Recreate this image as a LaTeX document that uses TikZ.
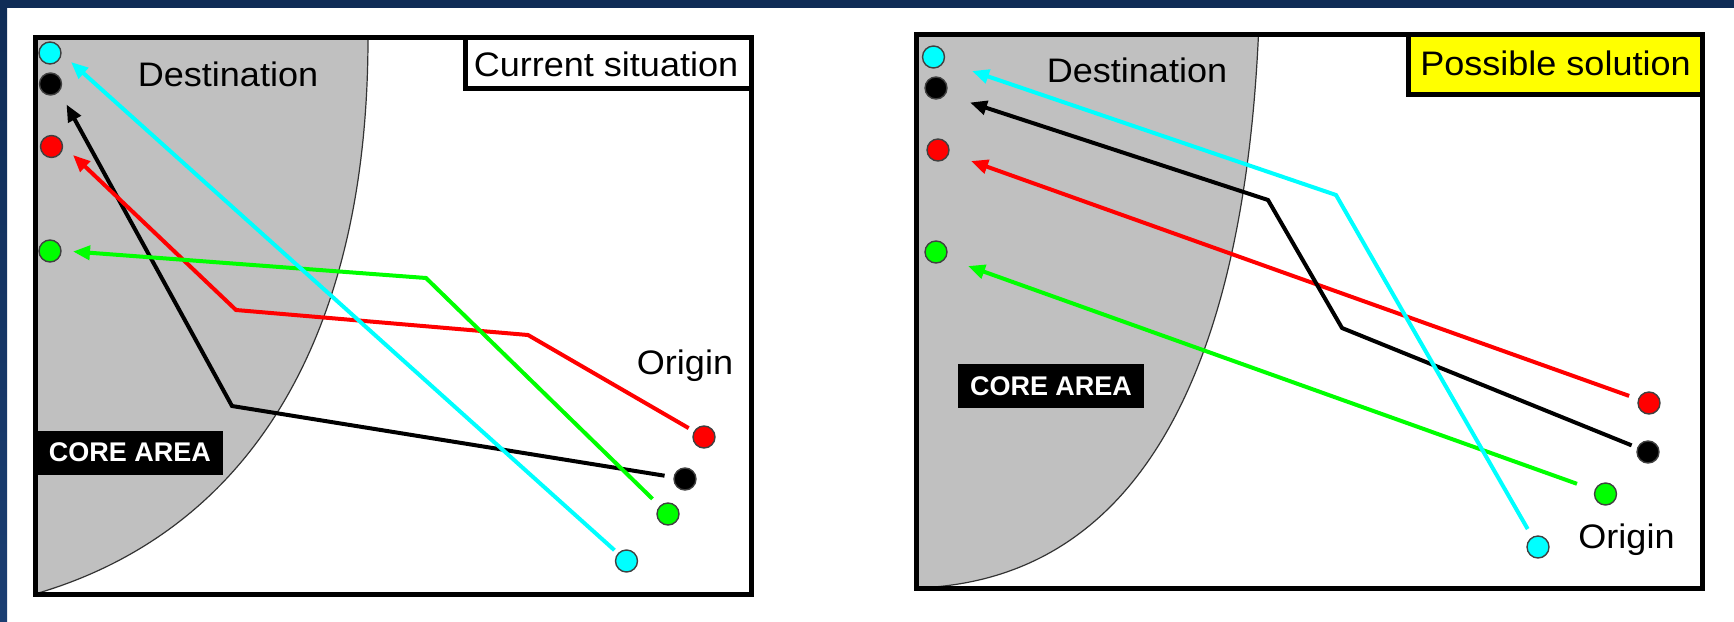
\documentclass[tikz,border=0pt]{standalone}
\usepackage{fontspec}
\setmainfont{Liberation Sans}
\usetikzlibrary{arrows.meta}

\definecolor{bandnavy}{HTML}{0F2C56}
\definecolor{stripnavy}{HTML}{1B3E72}
\definecolor{corefill}{HTML}{C0C0C0}
\definecolor{routecyan}{HTML}{00FFFF}
\definecolor{routegreen}{HTML}{00FF00}
\definecolor{routered}{HTML}{FF0000}
\definecolor{labelyellow}{HTML}{FFFF00}

% slightly widened sans text for the captions
\newcommand{\widetext}[1]{\scalebox{1.06}[1]{#1}}

\begin{document}
\begin{tikzpicture}[x=0.5pt,y=-0.5pt,
  frame/.style={draw=black,line width=2.5pt},
  coreedge/.style={draw=black!80,line width=0.6pt},
  dot/.style={circle,draw=black!75,line width=0.7pt,minimum size=11pt,inner sep=0pt},
  flow/.style={line width=2pt,-{Triangle[length=8.5pt,width=7pt]}},
  caption/.style={anchor=base,inner sep=0pt,font=\fontsize{17pt}{20pt}\selectfont},
  corelabel/.style={fill=black,text=white,inner sep=0pt,minimum width=93pt,minimum height=22pt,
    font=\fontsize{13.5pt}{16pt}\selectfont\bfseries}]
\useasboundingbox (0,0) rectangle (1734,621);

% slide background
\fill[white] (0,0) rectangle (1734,621);
\shade[top color=bandnavy,bottom color=stripnavy] (0,0) rectangle (7,621);
\fill[bandnavy] (0,0) rectangle (1734,8);

% ---------------- left panel: current situation ----------------
\fill[corefill] (35,37.5) -- (368,37.5) .. controls (368,330) and (255,530) .. (35,594) -- cycle;
\draw[coreedge] (368,37.5) .. controls (368,330) and (255,530) .. (35,594);

\node[dot,fill=routecyan]  (Ldc) at (50,53) {};
\node[dot,fill=black]      (Ldk) at (50.5,84) {};
\node[dot,fill=routered]   (Ldr) at (51.5,146.5) {};
\node[dot,fill=routegreen] (Ldg) at (50,251) {};

\node[dot,fill=routered]   (Lor) at (704,437) {};
\node[dot,fill=black]      (Lok) at (685,479) {};
\node[dot,fill=routegreen] (Log) at (668,514) {};
\node[dot,fill=routecyan]  (Loc) at (626.5,561) {};

\coordinate (Ltc) at (71,62);
\coordinate (Ltk) at (66.5,104.5);
\coordinate (Ltr) at (73,155);
\coordinate (Ltg) at (73,251.5);
\coordinate (Lbk) at (232,406);
\coordinate (Lbr1) at (528,335);
\coordinate (Lbr2) at (236,310);
\coordinate (Lbg) at (426,278);

\draw[flow,black,shorten <=4.5pt] (Lok) -- (Lbk) -- (Ltk);
\draw[flow,routered,shorten <=3pt] (Lor) -- (Lbr1) -- (Lbr2) -- (Ltr);
\draw[flow,routegreen,shorten <=5pt] (Log) -- (Lbg) -- (Ltg);
\draw[flow,routecyan,shorten <=2.25pt] (Loc) -- (Ltc);

\node[caption] (Ldest) at (228,86) {\widetext{Destination}};
\node[caption] (Lorig) at (685,374) {\widetext{Origin}};
\node[corelabel] (Lcore) at (130,452.5) {CORE AREA};

\draw[frame] (35,37.5) rectangle (751,594);
\draw[frame,fill=white] (465,37.5) rectangle (751,88);
\node[caption] (Lcap) at (606,76.7) {\widetext{Current situation}};

% ---------------- right panel: possible solution ----------------
\fill[corefill] (916.5,34) -- (1258.5,34) .. controls (1245,330) and (1160,580) .. (916.5,588) -- cycle;
\draw[coreedge] (1258.5,34) .. controls (1245,330) and (1160,580) .. (916.5,588);

\node[dot,fill=routecyan]  (Rdc) at (933.5,57) {};
\node[dot,fill=black]      (Rdk) at (936,88) {};
\node[dot,fill=routered]   (Rdr) at (938,150) {};
\node[dot,fill=routegreen] (Rdg) at (936,252) {};

\node[dot,fill=routered]   (Ror) at (1649,403) {};
\node[dot,fill=black]      (Rok) at (1648,452) {};
\node[dot,fill=routegreen] (Rog) at (1605.5,494) {};
\node[dot,fill=routecyan]  (Roc) at (1538,547) {};

\coordinate (Rtc) at (972,71);
\coordinate (Rtk) at (970,102.5);
\coordinate (Rtr) at (971,161);
\coordinate (Rtg) at (968,266);
\coordinate (Rbc) at (1336,195);
\coordinate (Rbk1) at (1342,328);
\coordinate (Rbk2) at (1268,200);

\draw[flow,routered,shorten <=4.7pt] (Ror) -- (Rtr);
\draw[flow,routegreen,shorten <=9.3pt] (Rog) -- (Rtg);
\draw[flow,black,shorten <=3pt] (Rok) -- (Rbk1) -- (Rbk2) -- (Rtk);
\draw[flow,routecyan,shorten <=4.5pt] (Roc) -- (Rbc) -- (Rtc);

\node[caption] (Rdest) at (1137,82) {\widetext{Destination}};
\node[caption] (Rorig) at (1626.5,548.3) {\widetext{Origin}};
\node[corelabel] (Rcore) at (1051,386) {CORE AREA};

\draw[frame] (916.5,34) rectangle (1702,588.5);
\draw[frame,fill=labelyellow] (1408,34) rectangle (1702,94);
\node[caption] (Rcap) at (1555.5,75) {\widetext{Possible solution}};
\end{tikzpicture}
\end{document}
